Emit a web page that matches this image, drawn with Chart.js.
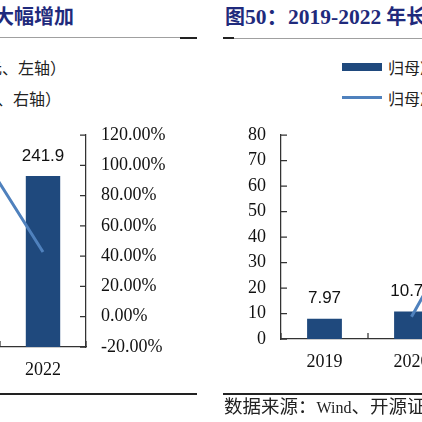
<!DOCTYPE html>
<html>
<head>
<meta charset="utf-8">
<script src="https://cdn.jsdelivr.net/npm/chart.js@4.4.1/dist/chart.umd.min.js"></script>
<style>
html, body { margin: 0; padding: 0; background: #fff; }
body { width: 422px; height: 422px; overflow: hidden; position: relative;
       font-family: "Liberation Serif", "Noto Sans CJK SC", serif; }
.abs { position: absolute; }
.title { position: absolute; top: 5px; font-size: 20px; line-height: 24px; font-weight: bold;
         color: #1f2a7c; white-space: nowrap; }
.title .lat { font-size: 21.5px; }
.gray { position: absolute; height: 1px; background: #a0a0a0; }
.dark { position: absolute; background: #222; }
.legend { position: absolute; top: 51px; font-family: "Noto Sans CJK SC", sans-serif; font-size: 16px;
          color: #222; white-space: nowrap; }
.legend .item { height: 31px; display: flex; align-items: center; }
.legend.right .item { justify-content: flex-end; }
.legend.right .item + .item { padding-right: 5px; }
.sw { display: inline-block; width: 40px; margin-right: 6px; }
.source { position: absolute; left: 224px; top: 395px; font-size: 18.5px; line-height: 24px; color: #222;
          white-space: nowrap; font-family: "Liberation Serif", "Noto Sans CJK SC", serif; }
.source .lat { font-size: 16px; }
</style>
</head>
<body>

<div class="title" style="right:348px">图49：2022 年归母净利润大幅增加</div>
<div class="gray" style="left:0;width:180px;top:37px"></div>
<div class="dark" style="left:180px;width:17px;top:37px;height:2px"></div>

<div class="title" style="left:225px">图<span class="lat">50：2019-2022</span> 年长期盈利稳步增长</div>
<div class="dark" style="left:223px;width:11px;top:37px;height:2px"></div>
<div class="gray" style="left:234px;width:200px;top:38px"></div>

<div id="legend1" class="legend right" style="right:356px"></div>
<div id="legend2" class="legend" style="left:342px"></div>

<div class="abs" style="left:-300px;top:0"><canvas id="c1" width="475" height="400"></canvas></div>
<div class="abs" style="left:200px;top:0"><canvas id="c2" width="440" height="400"></canvas></div>

<div class="dark" style="left:0;width:197px;top:393px;height:1.5px"></div>
<div class="dark" style="left:223px;width:210px;top:393px;height:1.5px"></div>
<div class="source">数据来源：<span class="lat">Wind</span>、开源证券研究所</div>

<script>
// left chart (cut off, only 2022 visible)
var leftYears = ['2019', '2020', '2021', '2022'];
var leftProfit = [33.5, 72.7, 169.5, 241.9];
var leftGrowth = [null, 117, 133, 42.7];
var leftNames = ['归母净利润（亿元、左轴）', '归母净利润同比（%、右轴）'];

// right chart (cut off, 2019 and part of 2020 visible)
var rightYears = ['2019', '2020', '2021', '2022'];
var rightProfit = [7.97, 10.78, 43.7, 70.2];
var rightGrowth = [null, 38, 305, 60];
var rightNames = ['归母净利润（亿元）', '归母净利润同比（右轴）'];

var BAR_COLOR = '#1f497d';
var LINE_COLOR = '#4f81bd';
var AXIS_COLOR = '#333';
var TICK_FONT = { family: 'Liberation Serif', size: 18 };

// short tick marks pointing into the plot area
var innerTicks = {
    id: 'innerTicks',
    afterDraw: function (chart, args, opts) {
        var ctx = chart.ctx;
        var ys = chart.scales[opts.axis];
        var xs = chart.scales.x;
        ctx.save();
        ctx.strokeStyle = AXIS_COLOR;
        ctx.lineWidth = 1.25;
        ctx.beginPath();
        var x0 = ys.position === 'left' ? ys.right : ys.left;
        var dir = ys.position === 'left' ? 1 : -1;
        for (var i = 0; i < ys.ticks.length; i++) {
            var y = ys.getPixelForTick(i);
            ctx.moveTo(x0, y);
            ctx.lineTo(x0 + dir * 6, y);
        }
        for (var j = 0; j <= xs.ticks.length; j++) {
            var x = xs.getPixelForValue(j - 0.5);
            ctx.moveTo(x, xs.top);
            ctx.lineTo(x, xs.top - 6);
        }
        ctx.stroke();
        ctx.restore();
    }
};

// value labels above the bars
var barValues = {
    id: 'barValues',
    afterDatasetsDraw: function (chart) {
        var ctx = chart.ctx;
        var meta = chart.getDatasetMeta(0);
        var data = chart.data.datasets[0].data;
        ctx.save();
        ctx.font = '17px "Liberation Sans"';
        ctx.fillStyle = '#111';
        ctx.textAlign = 'center';
        ctx.textBaseline = 'middle';
        meta.data.forEach(function (bar, i) {
            ctx.fillText(String(data[i]), bar.x, bar.y - 20);
        });
        ctx.restore();
    }
};

function makeChart(id, years, profit, growth, names, opts) {
    var ctx = document.getElementById(id).getContext('2d');
    var chart = new Chart(ctx, {
        type: 'bar',
        data: {
            labels: years,
            datasets: [
                {
                    type: 'bar',
                    label: names[0],
                    data: profit,
                    backgroundColor: BAR_COLOR,
                    yAxisID: 'y',
                    categoryPercentage: 1,
                    barPercentage: 0.4,
                    order: 1
                },
                {
                    type: 'line',
                    label: names[1],
                    data: growth,
                    borderColor: LINE_COLOR,
                    borderWidth: 3,
                    pointRadius: 0,
                    tension: 0,
                    yAxisID: 'y1',
                    order: 0
                }
            ]
        },
        options: {
            responsive: false,
            animation: false,
            layout: { padding: opts.padding },
            plugins: {
                legend: { display: false },
                tooltip: { enabled: false },
                innerTicks: { axis: opts.tickAxis }
            },
            scales: {
                x: {
                    grid: { display: false, drawTicks: false },
                    border: { display: true, color: AXIS_COLOR, width: 1.25 },
                    ticks: { font: TICK_FONT, color: '#111', padding: 12, maxRotation: 0 },
                    afterFit: function (s) { s.height = opts.xHeight; }
                },
                y: opts.y,
                y1: opts.y1
            }
        },
        plugins: [innerTicks, barValues]
    });
    return chart;
}

function axisCommon(extra) {
    var base = {
        grid: { display: false, drawTicks: false },
        border: { display: true, color: AXIS_COLOR, width: 1.25 },
        ticks: { font: TICK_FONT, color: '#111', padding: 15 }
    };
    for (var k in extra) {
        if (k === 'ticks') {
            for (var t in extra.ticks) base.ticks[t] = extra.ticks[t];
        } else {
            base[k] = extra[k];
        }
    }
    return base;
}

var chart1 = makeChart('c1', leftYears, leftProfit, leftGrowth, leftNames, {
    padding: { left: 42, top: 135, right: 0, bottom: 0 },
    xHeight: 53,
    tickAxis: 'y1',
    y: { display: false, min: 0, max: 300 },
    y1: axisCommon({
        position: 'right',
        min: -20,
        max: 120,
        ticks: {
            stepSize: 20,
            callback: function (v) { return v.toFixed(2) + '%'; }
        },
        afterFit: function (s) { s.width = 89; }
    })
});

var chart2 = makeChart('c2', rightYears, rightProfit, rightGrowth, rightNames, {
    padding: { left: 0, top: 135, right: 11, bottom: 0 },
    xHeight: 61,
    tickAxis: 'y',
    y: axisCommon({
        position: 'left',
        min: 0,
        max: 80,
        ticks: { stepSize: 10 },
        afterFit: function (s) { s.width = 81; }
    }),
    y1: { display: false, position: 'right', min: 0, max: 350 }
});

// html legends built from the datasets
function buildLegend(chart, elId) {
    var el = document.getElementById(elId);
    chart.data.datasets.forEach(function (ds) {
        var item = document.createElement('div');
        item.className = 'item';
        var sw = document.createElement('span');
        sw.className = 'sw';
        if (ds.type === 'bar') {
            sw.style.height = '8px';
            sw.style.background = ds.backgroundColor;
        } else {
            sw.style.height = '3px';
            sw.style.background = ds.borderColor;
        }
        var txt = document.createElement('span');
        txt.textContent = ds.label;
        item.appendChild(sw);
        item.appendChild(txt);
        el.appendChild(item);
    });
}
buildLegend(chart1, 'legend1');
buildLegend(chart2, 'legend2');
</script>
</body>
</html>
